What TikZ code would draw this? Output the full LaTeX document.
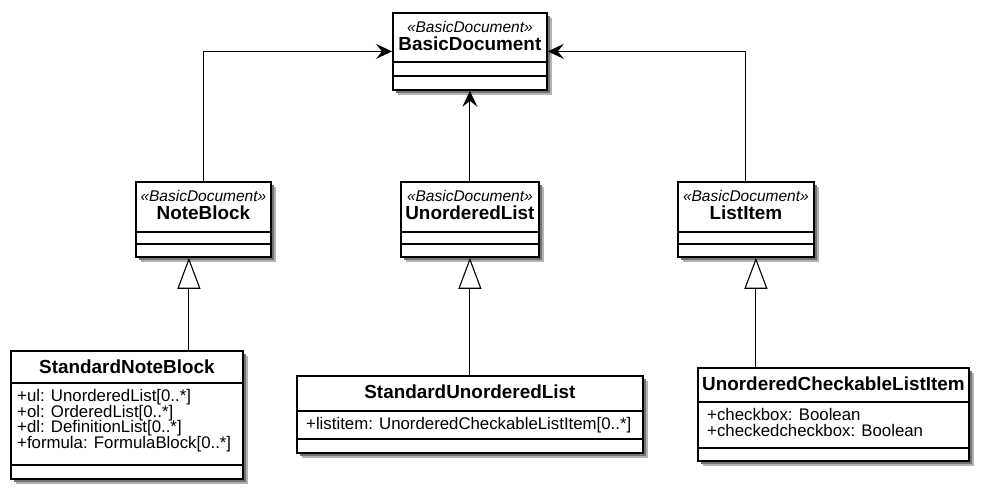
\documentclass[tikz,border=0pt]{standalone}
\usepackage{fontspec}
\setmainfont{Liberation Sans}
\usetikzlibrary{arrows.meta,shadows,calc}

\tikzset{
  umlbox/.style={draw,line width=1.8pt,fill=white,anchor=north west,inner sep=0pt,
    drop shadow={shadow xshift=5.5pt,shadow yshift=-5.5pt,fill=black!30,opacity=1},
    drop shadow={shadow xshift=3.5pt,shadow yshift=-3.5pt,fill=black!55,opacity=1}},
  sepline/.style={line width=1.6pt},
  stereo/.style={font=\fontsize{15.5}{16}\selectfont\itshape,inner sep=0pt},
  cname/.style={font=\fontsize{18.9}{20}\selectfont\bfseries,inner sep=0pt},
  attr/.style={font=\fontsize{16.8}{15.8}\selectfont,align=left,anchor=north west,inner sep=0pt},
  dep/.style={-{Stealth[length=16pt,width=15pt,inset=6pt]},line width=1.1pt},
  gen/.style={-{Triangle[open,length=31pt,width=23pt,fill=white]},line width=1.1pt},
}

% name, x, y, width, height, head, attributes
\newcommand{\umlclass}[7]{%
  \node[umlbox,minimum width=#4pt,minimum height=#5pt] (#1) at (#2,#3) {};
  \draw[sepline] ($(#1.north west)+(0,#6)$) -- ($(#1.north east)+(0,#6)$);
  \draw[sepline] ($(#1.north west)+(0,#6+#7)$) -- ($(#1.north east)+(0,#6+#7)$);
}
% name, stereotype, class name
\newcommand{\stereohead}[3]{%
  \node[stereo] (#1-st) at ($(#1.north)+(0,15)$) {«#2»};
  \node[cname] (#1-nm) at ($(#1.north)+(0,32)$) {#3};
}
\newcommand{\plainhead}[2]{%
  \node[cname] (#1-nm) at ($(#1.north)+(0,17)$) {#2};
}

\begin{document}
\begin{tikzpicture}[x=1pt,y=-1pt]
  \useasboundingbox (0,0) rectangle (985,493);

  % top class
  \umlclass{bd}{392}{12}{154}{77}{50}{14}
  \stereohead{bd}{BasicDocument}{BasicDocument}

  % middle row
  \umlclass{nb}{135}{181}{135}{75}{51}{12}
  \stereohead{nb}{BasicDocument}{NoteBlock}
  \umlclass{ul}{400}{181}{138}{75}{51}{12}
  \stereohead{ul}{BasicDocument}{UnorderedList}
  \umlclass{li}{677}{181}{136}{75}{51}{12}
  \stereohead{li}{BasicDocument}{ListItem}

  % bottom row
  \umlclass{snb}{10}{350}{232}{128}{33}{82}
  \plainhead{snb}{StandardNoteBlock}
  \node[attr] (snb-at) at ($(snb.north west)+(7,39)$)
    {+ul: UnorderedList[0..*]\\+ol: OrderedList[0..*]\\+dl: DefinitionList[0..*]\\+formula: FormulaBlock[0..*]};

  \umlclass{sul}{296}{375}{346}{77}{36}{28}
  \plainhead{sul}{StandardUnorderedList}
  \node[attr] (sul-at) at ($(sul.north west)+(10,42)$)
    {+listitem: UnorderedCheckableListItem[0..*]};

  \umlclass{ucli}{697}{367}{271}{93}{35}{46}
  \plainhead{ucli}{UnorderedCheckableListItem}
  \node[attr] (ucli-at) at ($(ucli.north west)+(10,41)$)
    {+checkbox: Boolean\\+checkedcheckbox: Boolean};

  % connectors
  \draw[dep] (nb.north) |- (bd.west);
  \draw[dep] (ul.north) -- (bd.south);
  \draw[dep] (li.north) |- (bd.east);

  \draw[gen] ([xshift=-14.5pt]nb.south |- snb.north) -- ([xshift=-14.5pt]nb.south);
  \draw[gen] (sul.north) -- (ul.south);
  \draw[gen] ([xshift=10pt]li.south |- ucli.north) -- ([xshift=10pt]li.south);
\end{tikzpicture}
\end{document}
